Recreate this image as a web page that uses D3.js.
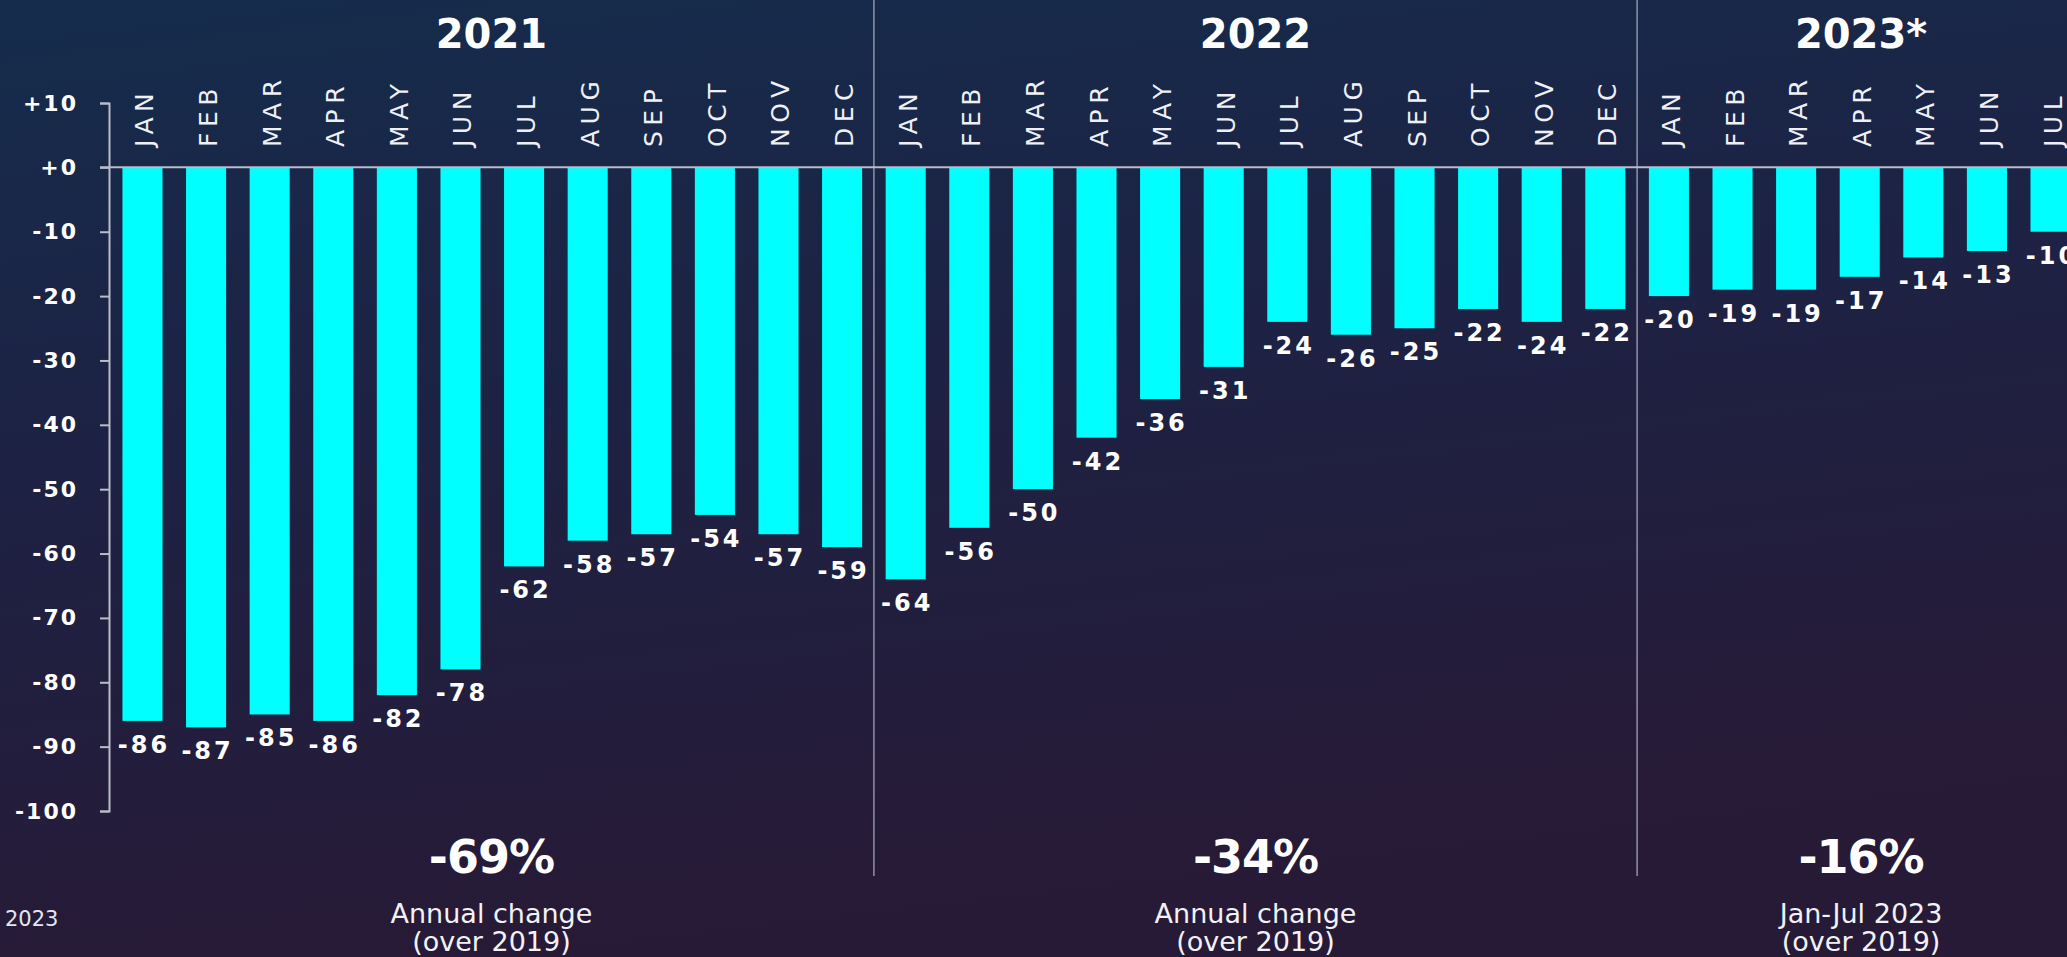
<!DOCTYPE html>
<html>
<head>
<meta charset="utf-8">
<style>
  body { margin: 0; overflow: hidden; background: #1c2140; }
  svg { display: block; }
</style>
</head>
<body>
<svg width="2067" height="957"></svg>
<script src="https://d3js.org/d3.v7.min.js"></script>
<script>

// Chart data
var months = ["JAN", "FEB", "MAR", "APR", "MAY", "JUN", "JUL", "AUG", "SEP", "OCT", "NOV", "DEC"];
var years = ["2021", "2022", "2023*"];
var values2021 = [-86, -87, -85, -86, -82, -78, -62, -58, -57, -54, -57, -59];
var values2022 = [-64, -56, -50, -42, -36, -31, -24, -26, -25, -22, -24, -22];
var values2023 = [-20, -19, -19, -17, -14, -13, -10];
var yearTotals = ["-69%", "-34%", "-16%"];
var yearNotes = [["Annual change", "(over 2019)"], ["Annual change", "(over 2019)"], ["Jan-Jul 2023", "(over 2019)"]];
var yTicks = [10, 0, -10, -20, -30, -40, -50, -60, -70, -80, -90, -100];

var svg = d3.select("svg"),
    width = +svg.attr("width"),
    height = +svg.attr("height");

// Background gradient
var defs = svg.append("defs");
var grad = defs.append("linearGradient")
    .attr("id", "bg")
    .attr("x1", "0").attr("y1", "0")
    .attr("x2", "0.25").attr("y2", "1");
grad.append("stop").attr("offset", "0").attr("stop-color", "#152c4c");
grad.append("stop").attr("offset", "0.45").attr("stop-color", "#1d2244");
grad.append("stop").attr("offset", "1").attr("stop-color", "#271a36");

svg.append("rect")
    .attr("width", width)
    .attr("height", height)
    .attr("fill", "url(#bg)");

// Flatten data into one row per month
var data = [];
[values2021, values2022, values2023].forEach(function(vals, i) {
  vals.forEach(function(v, j) {
    data.push({year: years[i], yi: i, month: months[j], key: years[i] + "-" + months[j], value: v});
  });
});

var axisX = 109;

var x = d3.scaleBand()
    .domain(data.map(function(d) { return d.key; }))
    .range([108, 2085])
    .paddingInner(0.37)
    .paddingOuter(0.227);

var y = d3.scaleLinear()
    .domain([-100, 10])
    .range([811, 103]);

var bw = x.bandwidth();

// Section boundaries (between last month of a year and first of next)
var bounds = [axisX];
years.forEach(function(yr, i) {
  if (i === 0) return;
  var prev = data.filter(function(d) { return d.yi === i - 1; }).pop();
  var first = data.find(function(d) { return d.yi === i; });
  bounds.push((x(prev.key) + bw + x(first.key)) / 2);
});
bounds.push(x.range()[1]);

// Year dividers
svg.append("g")
  .selectAll("line")
  .data(bounds.slice(1, -1))
  .join("line")
    .attr("x1", function(d) { return d; })
    .attr("x2", function(d) { return d; })
    .attr("y1", 0)
    .attr("y2", 876)
    .attr("stroke", "#8e93a6")
    .attr("stroke-width", 1.5);

// Bars
svg.append("g")
  .selectAll("rect")
  .data(data)
  .join("rect")
    .attr("x", function(d) { return x(d.key); })
    .attr("y", y(0))
    .attr("width", bw)
    .attr("height", function(d) { return y(d.value) - y(0); })
    .attr("fill", "#00ffff");

// Zero line
svg.append("line")
    .attr("x1", axisX - 9)
    .attr("x2", width)
    .attr("y1", y(0))
    .attr("y2", y(0))
    .attr("stroke", "#b9bdca")
    .attr("stroke-width", 2);

// Y axis
var yAxis = svg.append("g")
    .attr("transform", "translate(" + axisX + ",0)")
    .call(d3.axisLeft(y)
      .tickValues(yTicks)
      .tickSize(9)
      .tickSizeOuter(9)
      .tickPadding(22)
      .tickFormat(function(d) { return (d >= 0 ? "+" : "-") + Math.abs(d); }));

yAxis.select(".domain").attr("stroke", "#b9bdca").attr("stroke-width", 2);
yAxis.selectAll(".tick line").attr("stroke", "#b9bdca").attr("stroke-width", 2);
yAxis.selectAll(".tick text")
    .attr("fill", "#ffffff")
    .style("font-family", "'DejaVu Sans', sans-serif")
    .style("font-weight", "700")
    .style("font-size", "22px")
    .style("letter-spacing", "2px");

// Month labels (rotated)
svg.append("g")
  .selectAll("text")
  .data(data)
  .join("text")
    .attr("transform", function(d) { return "translate(" + (x(d.key) + bw / 2 + 11) + ",147) rotate(-90)"; })
    .attr("fill", "#eef0f5")
    .style("font-family", "'DejaVu Sans', sans-serif")
    .style("font-size", "25px")
    .style("letter-spacing", "5.5px")
    .text(function(d) { return d.month; });

// Value labels
svg.append("g")
  .selectAll("text")
  .data(data)
  .join("text")
    .attr("x", function(d) { return x(d.key) + bw / 2 + 1.5; })
    .attr("y", function(d) { return y(d.value) + 32; })
    .attr("text-anchor", "middle")
    .attr("fill", "#ffffff")
    .style("font-family", "'DejaVu Sans', sans-serif")
    .style("font-weight", "700")
    .style("font-size", "24px")
    .style("letter-spacing", "3px")
    .text(function(d) { return "-" + Math.abs(d.value); });

// Year titles and summaries, centered between dividers
var centers = years.map(function(yr, i) { return (bounds[i] + bounds[i + 1]) / 2; });

svg.append("g")
  .selectAll("text")
  .data(years)
  .join("text")
    .attr("x", function(d, i) { return centers[i]; })
    .attr("y", 48)
    .attr("text-anchor", "middle")
    .attr("fill", "#ffffff")
    .style("font-family", "'DejaVu Sans', sans-serif")
    .style("font-weight", "700")
    .style("font-size", "40px")
    .text(function(d) { return d; });

svg.append("g")
  .selectAll("text")
  .data(yearTotals)
  .join("text")
    .attr("x", function(d, i) { return centers[i]; })
    .attr("y", 873)
    .attr("text-anchor", "middle")
    .attr("fill", "#ffffff")
    .style("font-family", "'DejaVu Sans', sans-serif")
    .style("font-weight", "700")
    .style("font-size", "46px")
    .style("letter-spacing", "-1px")
    .text(function(d) { return d; });

var notes = svg.append("g")
  .selectAll("text")
  .data(yearNotes)
  .join("text")
    .attr("text-anchor", "middle")
    .attr("fill", "#f2f2f6")
    .style("font-family", "'DejaVu Sans', sans-serif")
    .style("font-size", "27px");

notes.selectAll("tspan")
  .data(function(d, i) { return d.map(function(t) { return {t: t, i: i}; }); })
  .join("tspan")
    .attr("x", function(d) { return centers[d.i]; })
    .attr("y", function(d, k) { return k === 0 ? 923 : 951; })
    .text(function(d) { return d.t; });

// Cropped source note at bottom left
svg.append("text")
    .attr("x", 5)
    .attr("y", 926)
    .attr("fill", "#e6e6ee")
    .style("font-family", "'DejaVu Sans', sans-serif")
    .style("font-size", "21px")
    .text("2023");

</script>
</body>
</html>
